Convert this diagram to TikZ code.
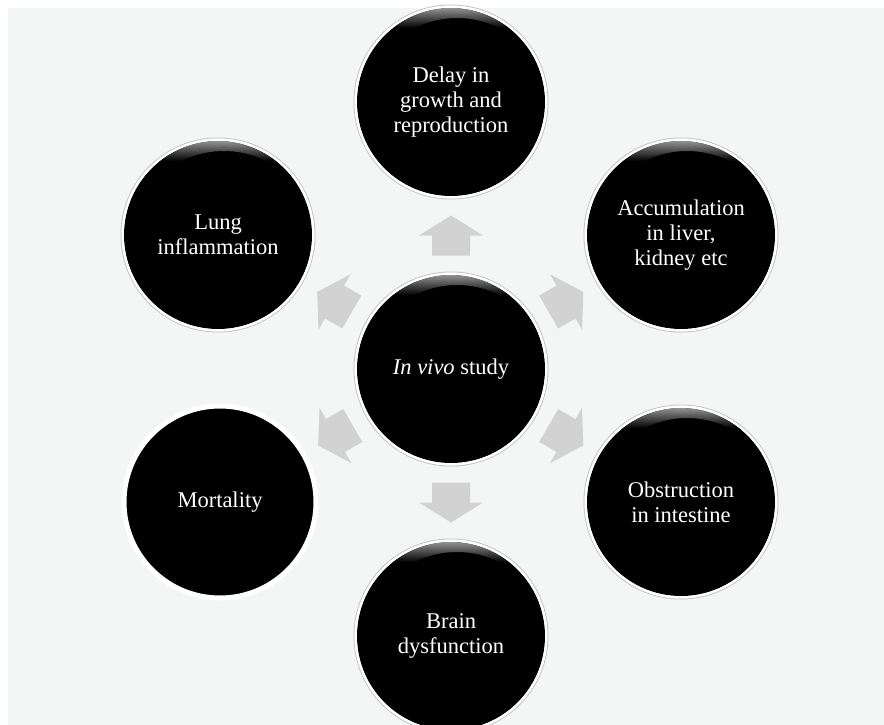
\documentclass[tikz,border=0pt]{standalone}
\usepackage{fontspec}
\setmainfont{Liberation Serif}
\usetikzlibrary{calc}

\definecolor{panelbg}{HTML}{F4F5F5}
\definecolor{arrowgray}{HTML}{D2D2D2}
\definecolor{rimgray}{HTML}{C4C4C4}

\tikzset{
  bubble/.style={circle, fill=black, minimum size=188pt, inner sep=0pt,
    text=white, align=center, font=\fontsize{22.5}{25}\selectfont},
  blockarrow/.style={fill=arrowgray, draw=none},
}

% glossy highlight and rim of a bubble
\newcommand{\bubblegloss}[1]{%
  \begin{scope}
    \clip (#1.center) circle (94);
    \begin{scope}[even odd rule]
      \clip ($(#1.center)+(-120,-120)$) rectangle ($(#1.center)+(120,120)$)
            ($(#1.center)+(6,10)$) circle (94);
      \shade[top color=gray!75, bottom color=black]
        ($(#1.center)+(-100,-96)$) rectangle ($(#1.center)+(100,-74)$);
    \end{scope}
  \end{scope}
  \draw[rimgray, line width=1pt] (#1.center) circle (97);
  \draw[white, line width=2.2pt] (#1.center) circle (95.4);
}
% block arrow pointing along the given angle, centred at the given coordinate
\newcommand{\blockarr}[2]{%
  \fill[blockarrow, shift={(#1)}, rotate=#2]
    (-20,-19) -- (0,-19) -- (0,-32) -- (20,0) -- (0,32) -- (0,19) -- (-20,19) -- cycle;
}

\begin{document}
\begin{tikzpicture}[x=1pt, y=-1pt]
  \useasboundingbox (0,0) rectangle (884,725);
  \fill[white] (0,0) rectangle (884,725);
  \fill[panelbg] (8,8) rectangle (884,725);

  \coordinate (c0) at (451,369);

  % centre and surrounding effects
  \node[bubble] (study) at (c0) {\textit{In vivo} study};
  \node[bubble] (delay) at ($(c0)+(0,-267)$) {Delay in\\growth and\\reproduction};
  \node[bubble] (accum) at ($(c0)+(230,-134)$) {Accumulation\\in liver,\\kidney etc};
  \node[bubble] (obstr) at ($(c0)+(230,133)$) {Obstruction\\in intestine};
  \node[bubble] (brain) at ($(c0)+(0,267)$) {Brain\\dysfunction};
  \node[bubble] (mort) at ($(c0)+(-231,133)$) {Mortality};
  \node[bubble] (lung) at ($(c0)+(-233,-134)$) {Lung\\inflammation};

  \foreach \n in {study,delay,accum,obstr,brain,lung} {\bubblegloss{\n}}
  \draw[white, line width=5pt] (mort.center) circle (96);

  % arrows from the centre towards each effect
  \path ($(study)!0.5!(delay)$) coordinate (a1)
        ($(study)!0.5!(accum)$) coordinate (a2)
        ($(study)!0.5!(obstr)$) coordinate (a3)
        ($(study)!0.5!(brain)$) coordinate (a4)
        ($(study)!0.5!(mort)$)  coordinate (a5)
        ($(study)!0.5!(lung)$)  coordinate (a6);
  \blockarr{a1}{90}
  \blockarr{a2}{30}
  \blockarr{a3}{-30}
  \blockarr{a4}{-90}
  \blockarr{a5}{210}
  \blockarr{a6}{150}
\end{tikzpicture}
\end{document}
